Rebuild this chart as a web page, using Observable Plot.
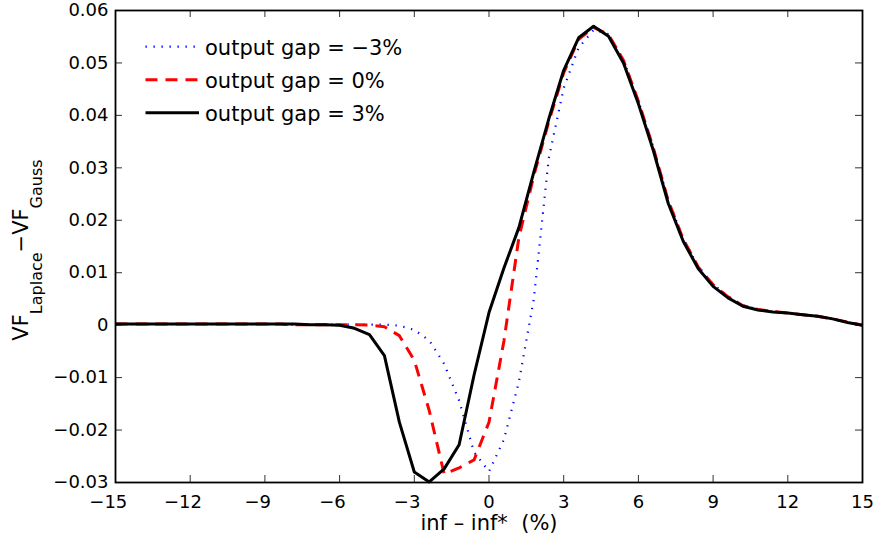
<!DOCTYPE html>
<html><head><meta charset="utf-8">
<script src="https://cdn.jsdelivr.net/npm/d3@7"></script>
<script src="https://cdn.jsdelivr.net/npm/@observablehq/plot@0.6"></script>
<style>html,body{margin:0;padding:0;background:#fff;} #chart{width:876px;height:542px;}</style>
</head><body><div id="chart"></div>
<script>
// ---- data ----
const xValues = [-15,-14.4,-13.8,-13.2,-12.6,-12,-11.4,-10.8,-10.2,-9.6,-9,-8.4,-7.8,-7.2,-6.6,-6,-5.4,-4.8,-4.2,-3.6,-3,-2.4,-1.8,-1.2,-0.6,0,0.6,1.2,1.8,2.4,3,3.6,4.2,4.8,5.4,6,6.6,7.2,7.8,8.4,9,9.6,10.2,10.8,11.4,12,12.6,13.2,13.8,14.4,15];

const gapMinus3 = [0.0002,0.0002,0.0002,0.0002,0.0002,0.0002,0.0002,0.0002,0.0002,0.0002,0.0002,0.0002,0.0001,0.0001,0.0001,0.0001,0.0001,0.0001,0.0001,-0.0001,-0.0009,-0.0029,-0.0074,-0.0144,-0.0242,-0.0279,-0.0218,-0.0108,0.0050,0.0318,0.0452,0.0529,0.0563,0.0555,0.0506,0.0428,0.0339,0.0238,0.0165,0.0112,0.0078,0.0055,0.0038,0.0030,0.0026,0.0023,0.0020,0.0017,0.0012,0.0006,0.0000];

const gap0 = [0.0002,0.0002,0.0002,0.0002,0.0002,0.0002,0.0002,0.0002,0.0002,0.0002,0.0002,0.0002,0.0001,0.0001,0.0001,0.0001,0.0001,0.0000,-0.0003,-0.0020,-0.0067,-0.0163,-0.0284,-0.0272,-0.0257,-0.0185,-0.0030,0.0167,0.0285,0.0388,0.0481,0.0545,0.0568,0.0554,0.0505,0.0427,0.0338,0.0237,0.0164,0.0111,0.0077,0.0054,0.0037,0.0030,0.0026,0.0023,0.0020,0.0017,0.0012,0.0006,0.0000];

const gap3 = [0.0002,0.0002,0.0002,0.0002,0.0002,0.0002,0.0002,0.0002,0.0002,0.0002,0.0002,0.0002,0.0002,0.0001,0.0001,0.0000,-0.0006,-0.0018,-0.0058,-0.0185,-0.0280,-0.0299,-0.0274,-0.0228,-0.0095,0.0024,0.0109,0.0186,0.0292,0.0393,0.0486,0.0548,0.0570,0.0551,0.0500,0.0422,0.0333,0.0232,0.0160,0.0108,0.0074,0.0052,0.0036,0.0029,0.0025,0.0023,0.0020,0.0017,0.0012,0.0005,0.0000];

const seriesLabels = ["output gap = \u22123%", "output gap = 0%", "output gap = 3%"];
const xTickValues = [-15,-12,-9,-6,-3,0,3,6,9,12,15];
const yTickValues = [-0.03,-0.02,-0.01,0,0.01,0.02,0.03,0.04,0.05,0.06];
const xLabel = "inf \u2013 inf*\u00a0 (%)";
const yLabelParts = ["VF","Laplace","\u2212VF","Gauss"];

// ---- layout / styles ----
const W = 876, H = 542, mL = 115, mR = 14, mT = 10, mB = 60;
const pw = W - mL - mR, ph = H - mT - mB, tickLen = 7;
const FONT = "DejaVu Sans";
const lineStyles = [
  {stroke: "#0000ff", strokeWidth: 2.2, strokeDasharray: "1.3 6.7", strokeLinecap: "butt", strokeLinejoin: "round"},
  {stroke: "#ff0000", strokeWidth: 3, strokeDasharray: "12 8", strokeLinecap: "butt", strokeLinejoin: "round"},
  {stroke: "#000000", strokeWidth: 3, strokeLinecap: "butt", strokeLinejoin: "round"}
];
const seriesValues = [gapMinus3, gap0, gap3];
const seriesData = seriesValues.map(vals => xValues.map((x, i) => ({x, y: vals[i]})));

const fmtX = d => d < 0 ? "\u2212" + Math.abs(d) + "\u2002\u2009\u200a" : String(d);
const fmtY = d => Math.abs(d) < 1e-12 ? "0" : (d < 0 ? "\u2212" : "") + Math.abs(d).toFixed(2);

const tickStyle = {stroke: "#333", strokeWidth: 1};

const svg = Plot.plot({
  width: W, height: H,
  marginLeft: mL, marginRight: mR, marginTop: mT, marginBottom: mB,
  style: {fontFamily: FONT, fontSize: "18px", background: "#fff", color: "#000", overflow: "visible"},
  x: {domain: [-15, 15], label: null},
  y: {domain: [-0.03, 0.06], label: null},
  marks: [
    // inward ticks on all four sides
    Plot.tickX(xTickValues, {x: d => d, insetTop: ph - tickLen, ...tickStyle}),
    Plot.tickX(xTickValues, {x: d => d, insetBottom: ph - tickLen, ...tickStyle}),
    Plot.tickY(yTickValues, {y: d => d, insetRight: pw - tickLen, ...tickStyle}),
    Plot.tickY(yTickValues, {y: d => d, insetLeft: pw - tickLen, ...tickStyle}),
    Plot.axisX(xTickValues, {anchor: "bottom", tickSize: 0, tickPadding: 13, tickFormat: fmtX, label: null, fontSize: 18}),
    Plot.axisY(yTickValues, {anchor: "left", tickSize: 0, tickPadding: 7, tickFormat: fmtY, label: null, fontSize: 18}),
    ...seriesData.map((d, i) => Plot.line(d, {x: "x", y: "y", ...lineStyles[i]})),
    Plot.frame({stroke: "#000", strokeWidth: 1.8}),
    Plot.text([xLabel], {text: d => d, frameAnchor: "bottom", dy: 47, fontSize: 21, fill: "#000"})
  ]
});

const root = d3.select(svg);

// y-axis label with subscripts
const yl = root.append("text")
  .attr("transform", "translate(27.5,250) rotate(-90)")
  .attr("text-anchor", "middle")
  .attr("font-family", FONT)
  .attr("font-size", 21)
  .attr("fill", "#000");
yl.append("tspan").text(yLabelParts[0]);
yl.append("tspan").attr("font-size", 16).attr("dy", 14.5).text(yLabelParts[1]);
yl.append("tspan").attr("dy", -14.5).text(yLabelParts[2]);
yl.append("tspan").attr("font-size", 16).attr("dy", 14.5).text(yLabelParts[3]);

// legend (inside, top-left)
const lg = root.append("g").attr("font-family", FONT).attr("font-size", 21).attr("fill", "#000").attr("text-anchor", "start");
seriesLabels.forEach((lab, i) => {
  const cy = 46.7 + 33 * i;
  const st = lineStyles[i];
  lg.append("line")
    .attr("x1", 145.5).attr("x2", 199).attr("y1", cy).attr("y2", cy)
    .attr("stroke", st.stroke).attr("stroke-width", st.strokeWidth)
    .attr("stroke-dasharray", st.strokeDasharray || null)
    .attr("stroke-linecap", "butt");
  lg.append("text").attr("x", 205).attr("y", cy + 8.3).attr("text-anchor", "start").text(lab);
});

document.getElementById("chart").appendChild(svg);
</script>
</body></html>
